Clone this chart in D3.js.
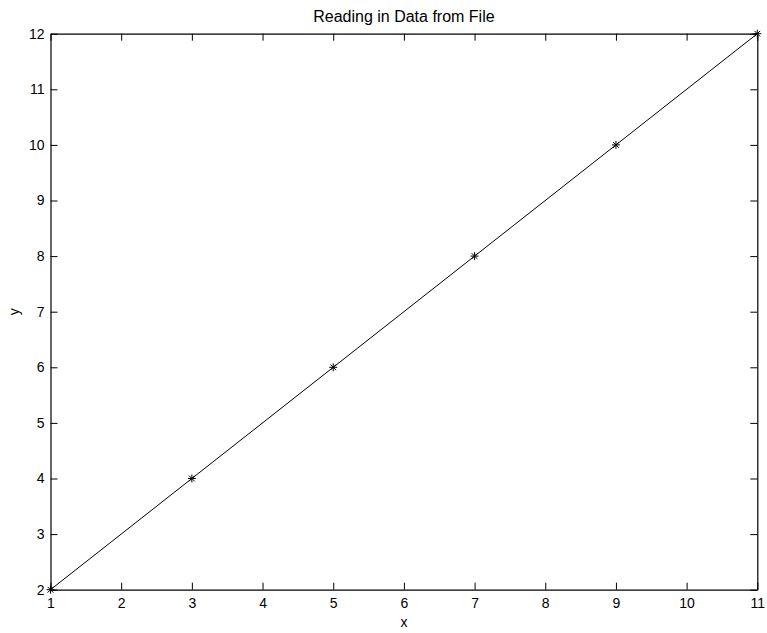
<!DOCTYPE html>
<html>
<head>
<meta charset="utf-8">
<script src="https://cdn.jsdelivr.net/npm/d3@7"></script>
<style>
  html, body { margin: 0; padding: 0; background: #fff; }
  svg text { font-family: "Liberation Sans", Arial, sans-serif; fill: #000; }
</style>
</head>
<body>
<svg id="chart" width="767" height="633"></svg>
<script>
// data
const xValues = [1, 3, 5, 7, 9, 11]
const yValues = [2, 4, 6, 8, 10, 12]
const xTicks = [1, 2, 3, 4, 5, 6, 7, 8, 9, 10, 11]
const yTicks = [2, 3, 4, 5, 6, 7, 8, 9, 10, 11, 12]

const margin = { top: 33.7, right: 9.7, bottom: 43.3, left: 50.5 }
const width = 767 - margin.left - margin.right
const height = 633 - margin.top - margin.bottom
const fontSize = 14

const svg = d3.select('#chart')
const g = svg.append('g').attr('transform', `translate(${margin.left}, ${margin.top})`)

const x = d3.scaleLinear().domain([1, 11]).range([0, width])
const y = d3.scaleLinear().domain([2, 12]).range([height, 0])

const tickLen = 7

// axes - ticks point inward, mirrored on top and right
const axBottom = g.append('g').attr('transform', `translate(0, ${height})`)
  .call(d3.axisBottom(x).tickValues(xTicks).tickSizeInner(-tickLen).tickSizeOuter(0).tickPadding(8))
const axTop = g.append('g')
  .call(d3.axisTop(x).tickValues(xTicks).tickSizeInner(-tickLen).tickSizeOuter(0).tickFormat(''))
const axLeft = g.append('g')
  .call(d3.axisLeft(y).tickValues(yTicks).tickSizeInner(-tickLen).tickSizeOuter(0).tickPadding(6))
const axRight = g.append('g').attr('transform', `translate(${width}, 0)`)
  .call(d3.axisRight(y).tickValues(yTicks).tickSizeInner(-tickLen).tickSizeOuter(0).tickFormat(''))

for (const ax of [axBottom, axTop, axLeft, axRight]) {
  ax.attr('font-size', fontSize).attr('font-family', '"Liberation Sans", Arial, sans-serif')
  ax.select('.domain').attr('stroke', '#000').attr('stroke-width', 1.2)
  ax.selectAll('.tick line').attr('stroke', '#000')
}

const pts = xValues.map((d, i) => [d, yValues[i]])

g.append('path')
  .datum(pts)
  .attr('fill', 'none')
  .attr('stroke', '#000')
  .attr('stroke-width', 1)
  .attr('d', d3.line().x(d => x(d[0])).y(d => y(d[1])))

// asterisk markers
const r = 4
const star = g.selectAll('.marker').data(pts).enter().append('g')
  .attr('class', 'marker')
  .attr('transform', d => `translate(${x(d[0])}, ${y(d[1])})`)
star.append('path')
  .attr('stroke', '#000')
  .attr('stroke-width', 1)
  .attr('fill', 'none')
  .attr('d', `M${-r},0H${r}M0,${-r}V${r}M${-r * 0.72},${-r * 0.72}L${r * 0.72},${r * 0.72}M${-r * 0.72},${r * 0.72}L${r * 0.72},${-r * 0.72}`)

// title and axis labels
svg.append('text')
  .attr('x', margin.left + width / 2).attr('y', 22)
  .attr('text-anchor', 'middle').attr('font-size', 16)
  .text('Reading in Data from File')
svg.append('text')
  .attr('x', margin.left + width / 2).attr('y', 627)
  .attr('text-anchor', 'middle').attr('font-size', fontSize)
  .text('x')
svg.append('text')
  .attr('transform', `translate(19, ${margin.top + height / 2}) rotate(-90)`)
  .attr('text-anchor', 'middle').attr('font-size', fontSize)
  .text('y')
</script>
</body>
</html>
